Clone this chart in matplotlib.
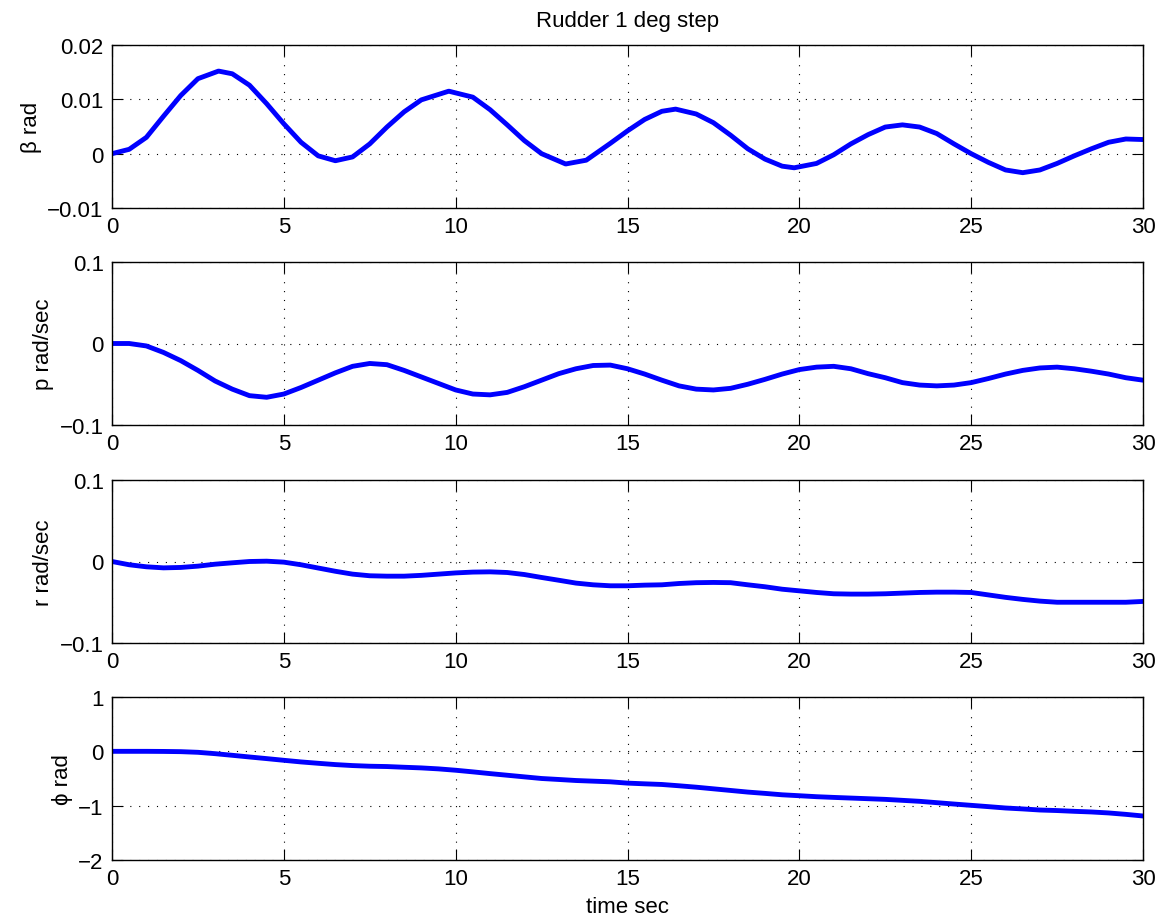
import numpy as np
import matplotlib.pyplot as plt
from matplotlib.ticker import FuncFormatter

plt.rcParams['font.family'] = ['Liberation Sans', 'DejaVu Sans']

# time samples (sec) and values
t_beta = [0, 0.5, 1, 1.5, 2, 2.5, 3.1, 3.5, 4, 4.5, 5, 5.5, 6, 6.5, 7, 7.5, 8, 8.5, 9, 9.8,
          10.5, 11, 11.5, 12, 12.5, 13.2, 13.8, 14.5, 15, 15.5, 16, 16.4, 17, 17.5, 18, 18.5,
          19, 19.5, 19.85, 20.5, 21, 21.5, 22, 22.5, 23, 23.5, 24, 24.5, 25, 25.5, 26, 26.5,
          27, 27.5, 28, 28.5, 29, 29.5, 30]
beta = [0, 0.0008, 0.003, 0.0069, 0.0107, 0.0138, 0.0152, 0.0147, 0.0126, 0.0092, 0.0055,
        0.0021, -0.0004, -0.0013, -0.0006, 0.0018, 0.0049, 0.0077, 0.0099, 0.0115,
        0.0104, 0.0081, 0.0053, 0.0024, 0.0, -0.0019, -0.0012, 0.0019, 0.0042, 0.0063,
        0.0078, 0.0082, 0.0073, 0.0057, 0.0034, 0.0009, -0.001, -0.0023, -0.0026, -0.0018,
        -0.0002, 0.0018, 0.0035, 0.0049, 0.0053, 0.0049, 0.0037, 0.0018, 0.0, -0.0016,
        -0.003, -0.0035, -0.003, -0.0018, -0.0004, 0.0009, 0.0021, 0.0027, 0.0026]

t_half = list(np.arange(0, 30.01, 0.5))

p = [0, 0, -0.003, -0.011, -0.021, -0.033, -0.046, -0.056, -0.064, -0.066, -0.062, -0.054,
     -0.045, -0.036, -0.028, -0.0245, -0.026, -0.033, -0.041, -0.049, -0.057, -0.062,
     -0.063, -0.060, -0.053, -0.045, -0.037, -0.031, -0.027, -0.0265, -0.031, -0.0375,
     -0.045, -0.052, -0.056, -0.057, -0.055, -0.050, -0.044, -0.0375, -0.032, -0.029,
     -0.028, -0.031, -0.037, -0.042, -0.048, -0.051, -0.052, -0.051, -0.048, -0.043,
     -0.0375, -0.033, -0.030, -0.029, -0.031, -0.034, -0.0375, -0.042, -0.045]

r = [0, -0.004, -0.0065, -0.0078, -0.0073, -0.0057, -0.0033, -0.0016, 0.0, 0.0004, -0.0008,
     -0.004, -0.008, -0.012, -0.0155, -0.0175, -0.018, -0.018, -0.017, -0.0155, -0.014,
     -0.013, -0.0127, -0.0135, -0.016, -0.0196, -0.023, -0.0265, -0.0286, -0.0298,
     -0.0298, -0.029, -0.0286, -0.027, -0.026, -0.0257, -0.026, -0.0286, -0.031, -0.034,
     -0.036, -0.038, -0.0396, -0.040, -0.040, -0.0396, -0.0388, -0.038, -0.0376, -0.0376,
     -0.038, -0.041, -0.044, -0.0465, -0.0486, -0.050, -0.050, -0.050, -0.050, -0.050, -0.049]

phi = [0, 0, 0, -0.002, -0.006, -0.018, -0.043, -0.073, -0.104, -0.134, -0.165, -0.195,
       -0.22, -0.244, -0.262, -0.274, -0.28, -0.293, -0.305, -0.323, -0.348, -0.378, -0.41,
       -0.44, -0.47, -0.50, -0.518, -0.537, -0.549, -0.561, -0.585, -0.598, -0.61, -0.634,
       -0.66, -0.69, -0.72, -0.75, -0.774, -0.8, -0.817, -0.835, -0.848, -0.86, -0.872,
       -0.884, -0.902, -0.92, -0.945, -0.97, -0.994, -1.018, -1.043, -1.06, -1.08, -1.09,
       -1.104, -1.116, -1.134, -1.16, -1.19]

series = [
    (t_beta, beta, '\u03b2 rad', (-0.01, 0.02), [-0.01, 0, 0.01, 0.02]),
    (t_half, p, 'p rad/sec', (-0.1, 0.1), [-0.1, 0, 0.1]),
    (t_half, r, 'r rad/sec', (-0.1, 0.1), [-0.1, 0, 0.1]),
    (t_half, phi, '\u03d5 rad', (-2, 1), [-2, -1, 0, 1]),
]


def fmt(v, pos):
    s = '%g' % v
    return s.replace('-', '\u2212')


fig = plt.figure(figsize=(11.63, 9.2), dpi=100)
tops = [46, 263, 481, 698]
for i, (tt, yy, lab, lim, ticks) in enumerate(series):
    top = tops[i]
    ax = fig.add_axes([112 / 1163, 1 - (top + 163) / 920, 1031 / 1163, 163 / 920])
    ax.plot(tt, yy, color='blue', lw=3.5, solid_joinstyle='round', solid_capstyle='round')
    ax.set_xlim(0, 30)
    ax.set_ylim(*lim)
    ax.set_xticks([0, 5, 10, 15, 20, 25, 30])
    ax.set_yticks(ticks)
    ax.yaxis.set_major_formatter(FuncFormatter(fmt))
    ax.grid(True, color='black', linestyle=(0, (1, 7)), linewidth=0.8)
    ax.tick_params(direction='in', top=True, right=True, length=8, width=0.8,
                   labelsize=16, pad=6)
    for sp in ax.spines.values():
        sp.set_linewidth(1.0)
    ax.set_ylabel(lab, fontsize=16)
    if i == 0:
        ax.set_title('Rudder 1 deg step', fontsize=16, pad=14)
    if i == 3:
        ax.set_xlabel('time sec', fontsize=16, labelpad=5)

fig.savefig('out.png', dpi=100)
